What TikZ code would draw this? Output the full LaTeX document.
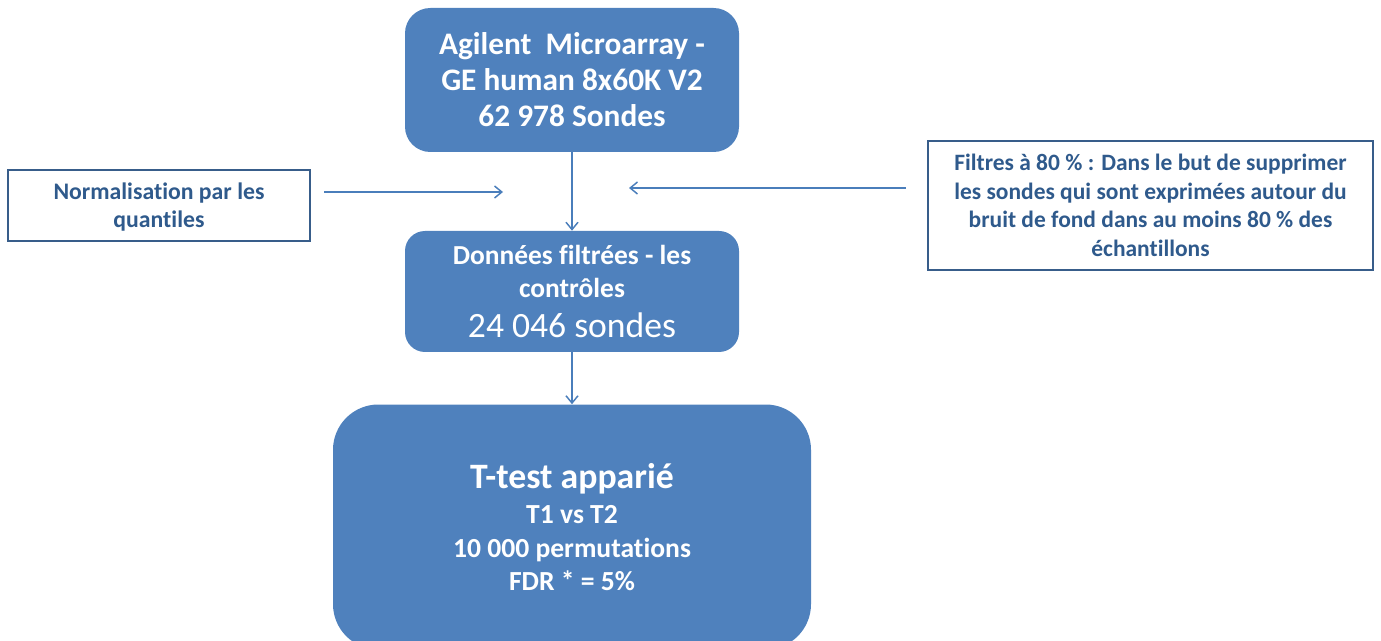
\documentclass[tikz,border=0pt]{standalone}
\usepackage{fontspec}
\setmainfont{Carlito}[Ligatures=NoCommon]
\usepackage{xcolor}
\usetikzlibrary{arrows,arrows.meta,positioning}

\definecolor{boxblue}{HTML}{4F81BD}
\definecolor{edgeblue}{HTML}{385D8A}
\definecolor{textblue}{HTML}{2F5A8C}
\definecolor{arrowblue}{HTML}{4A7EBB}

\tikzset{
  stepbox/.style={fill=boxblue, draw=none, text=white, align=center},
  notebox/.style={fill=white, draw=edgeblue, line width=1.1pt, text=textblue, align=center},
  flow/.style={arrowblue, line width=1.1pt, -{Straight Barb[length=5.5pt,width=9pt]}}
}

\begin{document}
\begin{tikzpicture}[x=0.75pt, y=-0.75pt]
\useasboundingbox (0,0) rectangle (1381,641);
\begin{scope}
\clip (0,0) rectangle (1381,641);
\node[stepbox, rounded corners=19pt, minimum width=250.5pt, minimum height=108pt,
      font=\fontsize{23.5}{27}\selectfont\bfseries] (agilent) at (572,80)
  {Agilent\ \ Microarray -\\ GE human 8x60K V2\\ 62 978 Sondes};
\node[stepbox, rounded corners=15pt, minimum width=250.5pt, minimum height=90.75pt,
      font=\fontsize{20.6}{24.75}\selectfont\bfseries] (filtre) at (572,291.5)
  {Données filtrées - les\\ contrôles\\[5pt] {\fontsize{26.7}{28}\selectfont\mdseries 24 046 sondes}};
\node[stepbox, rounded corners=34pt, minimum width=358.5pt, minimum height=183.75pt,
      font=\fontsize{20.7}{25}\selectfont\bfseries] (ttest) at (572,527)
  {{\fontsize{26.8}{28}\selectfont T-test apparié}\\[1.5pt] T1 vs T2\\ 10 000 permutations\\ FDR * = 5\%};
\end{scope}
\node[notebox, minimum width=226.5pt, minimum height=53.25pt,
      font=\fontsize{17.8}{21}\selectfont\bfseries] (norm) at (159,205.5)
  {\rule{0pt}{15pt}Normalisation par les\\ quantiles};
\node[notebox, minimum width=333.75pt, minimum height=96.75pt,
      font=\fontsize{17.6}{21.5}\selectfont\bfseries] (filtres) at (1150.5,205.5)
  {Filtres à 80 \% : Dans le but de supprimer\\ les sondes qui sont exprimées autour du\\ bruit de fond dans au moins 80 \% des\\ échantillons};

% free ends of the side arrows
\coordinate (normend) at (503,192);
\coordinate (filtend) at (629,188);

\draw[flow] (agilent.south) -- (filtre.north);
\draw[flow] (filtre.south) -- (ttest.north);
\draw[flow] ([xshift=10pt]norm.east |- normend) -- (normend);
\draw[flow] ([xshift=-16pt]filtres.west |- filtend) -- (filtend);
\end{tikzpicture}
\end{document}
